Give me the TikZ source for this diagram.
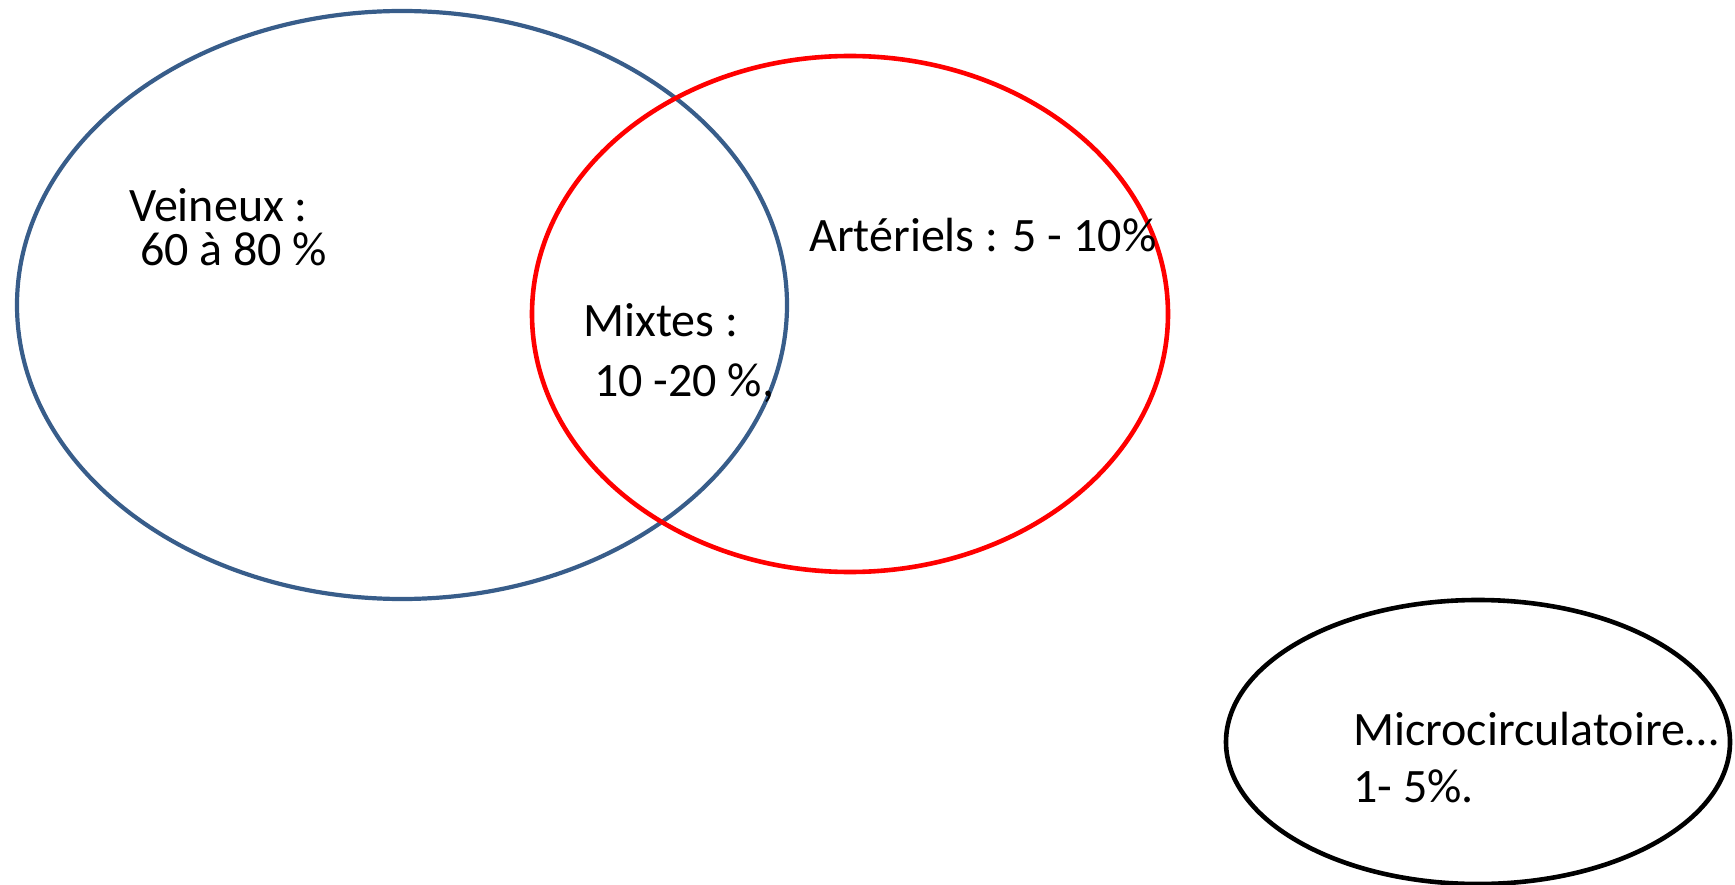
\documentclass[tikz,border=0pt]{standalone}
\usepackage{fontspec}
\setmainfont{Carlito}
\usepackage{xcolor}
\definecolor{veincolor}{RGB}{56,93,138}
\definecolor{arterycolor}{RGB}{255,0,0}

\begin{document}
\begin{tikzpicture}[
    x=1pt, y=-1pt,
    vessel/.style={line width=4.2pt},
    label/.style={anchor=base west, inner sep=0pt, font=\fontsize{48}{48}\selectfont}
]
\useasboundingbox (0,0) rectangle (1735,885);

% Vessel compartments
\draw[vessel, veincolor] (402,305) ellipse [x radius=385, y radius=294];
\draw[vessel, arterycolor, line width=4.6pt] (850,314) ellipse [x radius=318, y radius=258];
\draw[vessel, black, line width=4.6pt] (1478,742) ellipse [x radius=252, y radius=142];

% Labels
\node[label] (vein1) at (129,222) {Veineux :};
\node[label] (vein2) at (129,266) {\ 60 à 80 \%};
\node[label] (mixed1) at (583,337) {Mixtes :};
\node[label] (mixed2) at (583,396) {\ 10 -20 \%,};
\node[label] (artery) at (809,252) {Artériels : 5 - 10\%};
\node[label] (micro1) at (1353,745) {Microcirculatoire…};
\node[label] (micro2) at (1353,802) {1- 5\%.};

\end{tikzpicture}
\end{document}
